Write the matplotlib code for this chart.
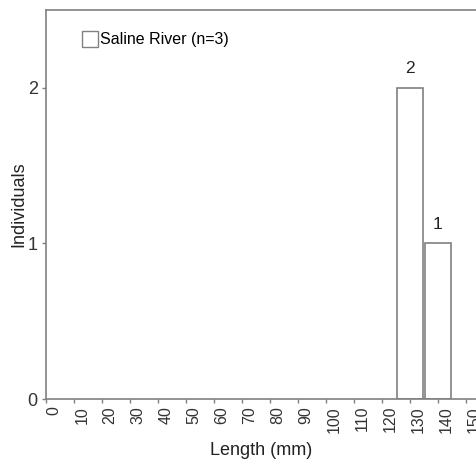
import matplotlib
matplotlib.use('Agg')
import matplotlib.pyplot as plt
import matplotlib.transforms as mtransforms
from matplotlib.patches import Patch

plt.rcParams['font.family'] = ['Liberation Sans', 'DejaVu Sans']

# length classes (mm) and number of individuals
length_classes = [0, 10, 20, 30, 40, 50, 60, 70, 80, 90, 100, 110, 120, 130, 140, 150]
counts = [0, 0, 0, 0, 0, 0, 0, 0, 0, 0, 0, 0, 0, 2, 1, 0]
legend_label = 'Saline River (n=3)'

grey = '#808080'

fig = plt.figure(figsize=(4.76, 4.59), dpi=100)
ax = fig.add_axes([46 / 476, 60 / 459, 1 - 46 / 476, 389 / 459])

xs = [x for x, c in zip(length_classes, counts) if c > 0]
hs = [c for c in counts if c > 0]
bars = ax.bar(xs, hs, width=9.3, color='white', edgecolor=grey, linewidth=1.2)
for b, h in zip(bars, hs):
    ax.text(b.get_x() + b.get_width() / 2, h + 0.075, str(h),
            ha='center', va='bottom', fontsize=12.5, color='#222222')

ax.set_xlim(0, 153.6)
ax.set_ylim(0, 2.5)
ax.set_xticks(length_classes)
ax.set_xticklabels([str(x) for x in length_classes], rotation=90, fontsize=11.5, color='#333333')
ax.set_yticks([0, 1, 2])
ax.set_yticklabels(['0', '1', '2'], fontsize=13, color='#333333')
ax.tick_params(axis='both', length=3, color=grey, width=1)
ax.tick_params(axis='x', pad=2)
ax.tick_params(axis='y', pad=3)

# x labels sit a little to the right of their ticks
shift = mtransforms.ScaledTranslation(8 / 100, 0, fig.dpi_scale_trans)
for lab in ax.get_xticklabels():
    lab.set_transform(lab.get_transform() + shift)

for s in ['left', 'bottom', 'top']:
    ax.spines[s].set_color(grey)
    ax.spines[s].set_linewidth(1.2)
ax.spines['right'].set_visible(False)

ax.set_xlabel('Length (mm)', fontsize=13, color='#222222', labelpad=7)
ax.set_ylabel('Individuals', fontsize=13, color='#222222', labelpad=0)

handle = Patch(facecolor='white', edgecolor=grey, linewidth=1.0)
ax.legend([handle], [legend_label], loc='upper left', frameon=False,
          fontsize=11.5, handlelength=1.0, handleheight=1.1, handletextpad=0.15,
          borderaxespad=0, bbox_to_anchor=(0.068, 0.962))

fig.savefig('out.png', dpi=100)
